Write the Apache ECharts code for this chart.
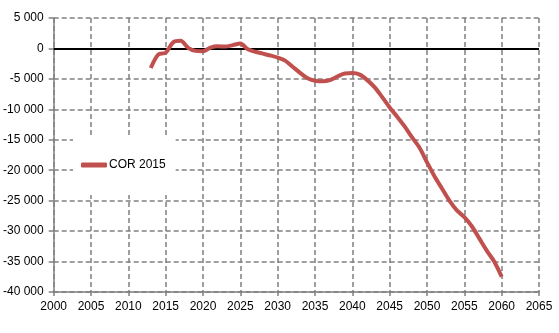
<!DOCTYPE html>
<html>
<head>
<meta charset="utf-8">
<script src="https://cdn.jsdelivr.net/npm/echarts@6/dist/echarts.min.js"></script>
<style>
html,body{margin:0;padding:0;background:#fff;}
#c{width:559px;height:333px;}
</style>
</head>
<body>
<div id="c"></div>
<script>
const years = [2013,2014,2015,2016,2017,2018,2019,2020,2021,2022,2023,2024,2025,2026,2027,2028,2029,2030,2031,2032,2033,2034,2035,2036,2037,2038,2039,2040,2041,2042,2043,2044,2045,2046,2047,2048,2049,2050,2051,2052,2053,2054,2055,2056,2057,2058,2059,2060];
const cor2015 = [-3200,-1000,-700,1000,1250,100,-400,-450,150,350,300,550,800,-150,-550,-850,-1150,-1500,-2000,-3000,-4000,-4900,-5300,-5400,-5200,-4600,-4100,-4050,-4300,-5200,-6400,-8000,-9700,-11200,-12800,-14600,-16300,-18700,-21000,-23000,-25000,-26600,-27700,-29200,-31200,-33200,-35000,-37500];
const seriesName = 'COR 2015';
const xMin = 2000, xMax = 2065, xStep = 5;
const yMin = -40000, yMax = 5000, yStep = 5000;

function fmt(v){
  const s = Math.abs(v).toString().replace(/\B(?=(\d{3})+(?!\d))/g, ' ');
  return (v < 0 ? '-' : '') + s;
}

const chart = echarts.init(document.getElementById('c'), null, {renderer:'canvas'});
chart.setOption({
  animation:false,
  backgroundColor:'#fff',
  textStyle:{fontFamily:'Liberation Sans, Arial, sans-serif'},
  grid:{left:50, top:18, width:489, height:274, containLabel:false},
  legend:{
    left:73, top:135,
    backgroundColor:'#fff',
    padding:[24,10,24,8],
    icon:'roundRect',
    itemWidth:26, itemHeight:5,
    textStyle:{fontSize:12, color:'#000', fontFamily:'Liberation Sans, Arial, sans-serif', padding:[0,0,0,-3]},
    data:[seriesName]
  },
  xAxis:{
    type:'value', min:xMin, max:xMax, interval:xStep,
    axisLine:{show:true, onZero:false, lineStyle:{color:'#808080', width:1.5}},
    axisTick:{show:true, length:4, lineStyle:{color:'#808080', width:1.5}},
    axisLabel:{fontSize:12, color:'#000', margin:9, formatter:v=>String(v)},
    splitLine:{show:true, lineStyle:{color:'#808080', width:1.5, type:[5,3]}}
  },
  yAxis:{
    type:'value', min:yMin, max:yMax, interval:yStep,
    axisLine:{show:true, onZero:false, lineStyle:{color:'#808080', width:1.5}},
    axisTick:{show:true, length:5, lineStyle:{color:'#808080', width:1.5}},
    axisLabel:{fontSize:12, color:'#000', margin:10, formatter:fmt},
    splitLine:{show:true, lineStyle:{color:'#808080', width:1.5, type:[5,3]}}
  },
  series:[{
    name:seriesName,
    type:'line',
    data:years.map((y,i)=>[y, cor2015[i]]),
    symbol:'none',
    smooth:0.3,
    lineStyle:{color:'#c0504d', width:4},
    itemStyle:{color:'#c0504d'},
    z:3,
    markLine:{
      silent:true, symbol:'none',
      label:{show:false},
      lineStyle:{color:'#000', width:2, type:'solid'},
      data:[{yAxis:0}],
      z:2
    }
  }]
});
</script>
</body>
</html>
